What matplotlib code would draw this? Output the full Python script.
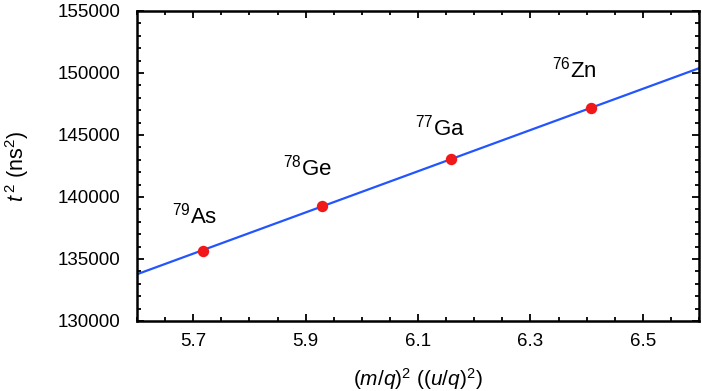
import numpy as np
import matplotlib
matplotlib.use("Agg")
import matplotlib.pyplot as plt
from matplotlib.ticker import MultipleLocator, FixedLocator

plt.rcParams['font.family'] = ['Liberation Sans', 'DejaVu Sans']
plt.rcParams['mathtext.fontset'] = 'custom'
plt.rcParams['mathtext.rm'] = 'Liberation Sans'
plt.rcParams['mathtext.it'] = 'Liberation Sans:italic'
plt.rcParams['mathtext.bf'] = 'Liberation Sans:bold'

# Data
isotopes = [r'$^{79}$As', r'$^{78}$Ge', r'$^{77}$Ga', r'$^{76}$Zn']
mq2 = [5.717, 5.929, 6.158, 6.407]
t2 = [135670, 139290, 143060, 147150]

# label anchors (text baseline, centered)
label_x = [5.703, 5.904, 6.139, 6.379]
label_y = [137900, 141700, 144920, 149600]

# Linear fit through the points
slope, intercept = np.polyfit(mq2, t2, 1)
x_fit = np.array([5.6, 6.6])
y_fit = slope * x_fit + intercept

fig = plt.figure(figsize=(7.02, 3.91), dpi=100)
ax = fig.add_axes([137 / 702, 1 - 321 / 391, 562 / 702, 310 / 391])

ax.plot(x_fit, y_fit, color='#2255ff', lw=1.6, zorder=2)
ax.plot(mq2, t2, 'o', color='#f01818', ms=8.2, mec='none', zorder=3)

for name, x, y in zip(isotopes, label_x, label_y):
    ax.text(x, y, name, ha='center', va='baseline', fontsize=16)

ax.set_xlim(5.6, 6.6)
ax.set_ylim(130000, 155000)

ax.xaxis.set_major_locator(FixedLocator([5.7, 5.9, 6.1, 6.3, 6.5]))
ax.xaxis.set_minor_locator(MultipleLocator(0.05))
ax.yaxis.set_major_locator(MultipleLocator(5000))
ax.yaxis.set_minor_locator(MultipleLocator(1000))

ax.tick_params(which='both', direction='in', top=True, right=True,
               labelsize=13.5, width=1.3)
ax.tick_params(axis='y', pad=12)
ax.tick_params(axis='x', pad=9)
ax.tick_params(which='major', length=5)
ax.tick_params(which='minor', length=3)

for s in ax.spines.values():
    s.set_linewidth(1.8)

ax.set_xlabel(r'$(m/q)^2$ $((u/q)^2)$', fontsize=15, labelpad=11)
ax.set_ylabel(r'$t^{\,2}$ (ns$^2$)', fontsize=15.5, labelpad=19)

fig.savefig('out.png', dpi=100)
